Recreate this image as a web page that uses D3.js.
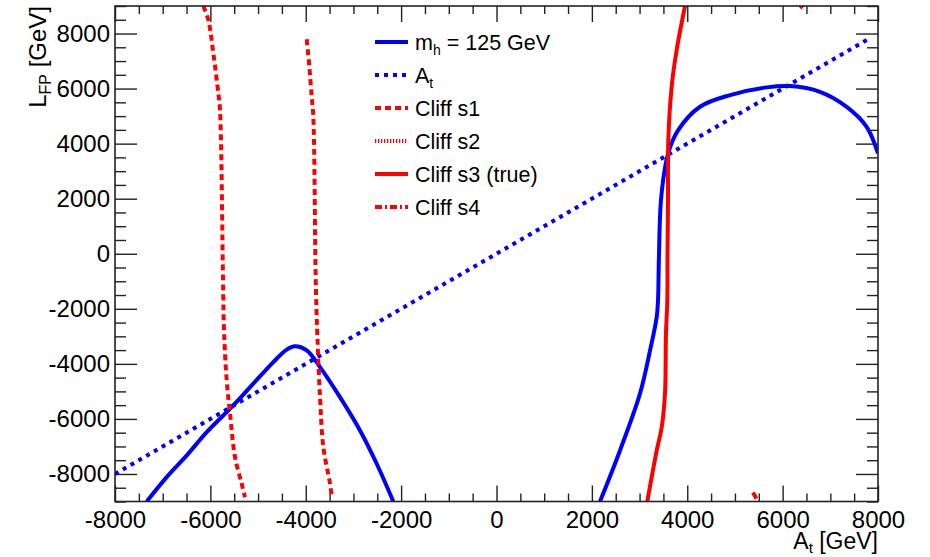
<!DOCTYPE html>
<html>
<head>
<meta charset="utf-8">
<script src="https://cdn.jsdelivr.net/npm/d3@7"></script>
<style>
  body { margin: 0; background: #fff; }
  svg { display: block; }
  text { font-family: "Liberation Sans", Arial, Helvetica, sans-serif; fill: #000; }
</style>
</head>
<body>
<svg id="chart" width="930" height="557"></svg>
<script>
// --- data: [A_t, L_FP] in GeV ---
const mhLeft = [
  [-7335, -9000], [-6916, -8116], [-6496, -7327], [-6077, -6480], [-5519, -5509],
  [-5100, -4720], [-4680, -3935], [-4399, -3484], [-4225, -3364], [-3980, -3509],
  [-3701, -4116], [-3282, -5207], [-2862, -6418], [-2512, -7629], [-2164, -9000]
];
const mhRight = [
  [2170, -9000], [2590, -7145], [3010, -5073], [3220, -3510], [3360, -2298],
  [3387, -1690], [3407, -55], [3455, 2065], [3600, 3650], [3810, 4490],
  [4268, 5340], [4900, 5764], [5666, 6044], [6154, 6091], [6783, 5884],
  [7343, 5338], [7762, 4611], [8000, 3644]
];
const atLine = [[-8000, -8000], [7800, 7800]];
const cliffS1a = [
  [-6148, 9000], [-6043, 8491], [-5938, 7280], [-5833, 5825], [-5798, 5218],
  [-5735, -964], [-5714, -2782], [-5658, -4600], [-5588, -5811], [-5483, -7389],
  [-5343, -8356], [-5274, -8844]
];
const cliffS1b = [
  [-3980, 7790], [-3925, 6793], [-3875, 5702], [-3841, 4975], [-3791, -964],
  [-3757, -2964], [-3701, -5207], [-3631, -7025], [-3491, -8356], [-3456, -8844]
];
const cliffS3 = [
  [3162, -9000], [3360, -7145], [3465, -6298], [3533, -5084], [3554, -2902],
  [3582, -1690], [3586, -55], [3596, 1945], [3603, 4127], [3673, 6065],
  [3778, 7400], [3953, 9000]
];
const cliffS4a = [[5379, -8673], [5484, -9000]];
const cliffS4b = [[6364, 8927], [6427, 9040]];

const xTickLabels = ["-8000", "-6000", "-4000", "-2000", "0", "2000", "4000", "6000", "8000"];
const yTickLabels = ["-8000", "-6000", "-4000", "-2000", "0", "2000", "4000", "6000", "8000"];
const legendKeys = ["mh", "at", "s1", "s2", "s3", "s4"];
const legendLabels = [
  ["m", "h", " = 125 GeV"],
  ["A", "t", ""],
  ["Cliff s1", "", ""],
  ["Cliff s2", "", ""],
  ["Cliff s3 (true)", "", ""],
  ["Cliff s4", "", ""]
];

// --- styling ---
const STYLE = {
  mh: { color: "#0000ff", dash: null,      width: 4 },
  at: { color: "#0000ff", dash: "4 5",     width: 4 },
  s1: { color: "#ff0000", dash: "6 4",     width: 4 },
  s2: { color: "#ff0000", dash: "1.3 1.7", width: 4 },
  s3: { color: "#ff0000", dash: null,      width: 4 },
  s4: { color: "#ff0000", dash: "7 3 2 3", width: 4 }
};

const L = 115, R = 878, T = 6, B = 501.5;
const svg = d3.select("#chart");

const x = d3.scaleLinear().domain([-8000, 8000]).range([L, R]);
const y = d3.scaleLinear().domain([-9000, 9000]).range([B, T]);

svg.append("defs").append("clipPath").attr("id", "frame-clip")
  .append("rect").attr("x", L).attr("y", T).attr("width", R - L).attr("height", B - T);

// axes (ROOT style: ticks inside the frame on all four sides)
const xMajor = xTickLabels.map(Number);
const yMajor = yTickLabels.map(Number);
const xMinor = x.ticks(32).filter(v => !xMajor.includes(v));
const yMinor = y.ticks(36).filter(v => !yMajor.includes(v));

function styleAxis(g) {
  g.select(".domain").remove();
  g.selectAll(".tick line").attr("stroke", "#222").attr("stroke-width", 1.4);
  g.selectAll(".tick text").attr("font-size", 24).style("font-family", '"Liberation Sans", Arial, sans-serif');
}

svg.append("g").attr("transform", `translate(0,${B})`)
  .call(d3.axisBottom(x).tickValues(xMajor).tickFormat((d, i) => xTickLabels[i])
    .tickSize(-16).tickSizeOuter(0).tickPadding(9))
  .call(styleAxis);
svg.append("g").attr("transform", `translate(0,${B})`)
  .call(d3.axisBottom(x).tickValues(xMinor).tickFormat("").tickSize(-8).tickSizeOuter(0))
  .call(styleAxis);
svg.append("g").attr("transform", `translate(0,${T})`)
  .call(d3.axisTop(x).tickValues(xMajor).tickFormat("").tickSize(-16).tickSizeOuter(0))
  .call(styleAxis);
svg.append("g").attr("transform", `translate(0,${T})`)
  .call(d3.axisTop(x).tickValues(xMinor).tickFormat("").tickSize(-8).tickSizeOuter(0))
  .call(styleAxis);

svg.append("g").attr("transform", `translate(${L},0)`)
  .call(d3.axisLeft(y).tickValues(yMajor).tickFormat((d, i) => yTickLabels[i])
    .tickSize(-22).tickSizeOuter(0).tickPadding(5))
  .call(styleAxis);
svg.append("g").attr("transform", `translate(${L},0)`)
  .call(d3.axisLeft(y).tickValues(yMinor).tickFormat("").tickSize(-11).tickSizeOuter(0))
  .call(styleAxis);
svg.append("g").attr("transform", `translate(${R},0)`)
  .call(d3.axisRight(y).tickValues(yMajor).tickFormat("").tickSize(-22).tickSizeOuter(0))
  .call(styleAxis);
svg.append("g").attr("transform", `translate(${R},0)`)
  .call(d3.axisRight(y).tickValues(yMinor).tickFormat("").tickSize(-11).tickSizeOuter(0))
  .call(styleAxis);

// curves
const line = d3.line().x(d => x(d[0])).y(d => y(d[1])).curve(d3.curveCatmullRom.alpha(0.5));
const plotG = svg.append("g").attr("clip-path", "url(#frame-clip)");

const series = [
  ["at", atLine], ["mh", mhLeft], ["mh", mhRight],
  ["s1", cliffS1a], ["s1", cliffS1b], ["s3", cliffS3],
  ["s4", cliffS4a], ["s4", cliffS4b]
];
series.forEach(([key, pts]) => {
  const s = STYLE[key];
  plotG.append("path").datum(pts)
    .attr("d", line)
    .attr("fill", "none")
    .attr("stroke", s.color)
    .attr("stroke-width", s.width)
    .attr("stroke-dasharray", s.dash)
    .attr("stroke-linejoin", "round");
});

// frame
svg.append("rect").attr("x", L).attr("y", T).attr("width", R - L).attr("height", B - T)
  .attr("fill", "none").attr("stroke", "#222").attr("stroke-width", 1.6);

// axis titles
const xt = svg.append("text").attr("x", R).attr("y", 549).attr("text-anchor", "end").attr("font-size", 23);
xt.append("tspan").text("A");
xt.append("tspan").attr("font-size", 15).attr("dy", 4).text("t");
xt.append("tspan").attr("dy", -4).text(" [GeV]");

const yt = svg.append("text").attr("transform", `translate(46,${T}) rotate(-90)`)
  .attr("text-anchor", "end").attr("font-size", 24);
yt.append("tspan").text("L");
yt.append("tspan").attr("font-size", 16).attr("dy", 5).text("FP");
yt.append("tspan").attr("dy", -5).text(" [GeV]");

// legend
const legY = d3.scalePoint().domain(legendKeys).range([42, 207]);
const leg = svg.append("g");
legendKeys.forEach((k, i) => {
  const s = STYLE[k];
  const cy = legY(k);
  leg.append("line").attr("x1", 375).attr("x2", 408).attr("y1", cy).attr("y2", cy)
    .attr("stroke", s.color).attr("stroke-width", s.width)
    .attr("stroke-dasharray", s.dash);
  const [main, sub, rest] = legendLabels[i];
  const t = leg.append("text").attr("x", 415).attr("y", cy + 8).attr("font-size", 21.5);
  t.append("tspan").text(main);
  if (sub) {
    t.append("tspan").attr("font-size", 14).attr("dy", 5).text(sub);
    if (rest) t.append("tspan").attr("dy", -5).text(rest);
  } else if (rest) {
    t.append("tspan").text(rest);
  }
});
</script>
</body>
</html>
